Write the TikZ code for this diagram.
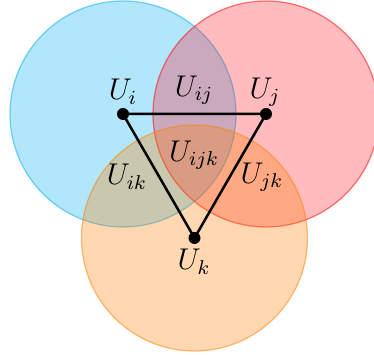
\documentclass[tikz,border=0pt]{standalone}
\definecolor{setred}{RGB}{255,30,42}
\begin{document}
\begin{tikzpicture}[x=0.4pt,y=-0.4pt,
  setcirc/.style={line width=0.5pt, draw opacity=0.5, fill opacity=0.3},
  pt/.style={circle, fill=black, inner sep=0pt, minimum size=4.8pt},
  lab/.style={font=\large}]
\useasboundingbox (0,0) rectangle (374,358);
\fill[white] (0,0) rectangle (374,358);
\coordinate (ci) at (123,114);
\coordinate (cj) at (266,114);
\coordinate (ck) at (194.5,238);
\draw[setcirc, draw=cyan, fill=cyan] (ci) circle (113);
\draw[setcirc, draw=red, fill=setred] (cj) circle (113);
\draw[setcirc, draw=orange, fill=orange] (ck) circle (113);
\node[pt] (i) at (ci) {};
\node[pt] (j) at (cj) {};
\node[pt] (k) at (ck) {};
\draw[line width=1pt] (i.center) -- (j.center) -- (k.center) -- cycle;
\node[lab] (li) at (123,92) {$U_i$};
\node[lab] (lj) at (265,92) {$U_j$};
\node[lab] (lk) at (194,262) {$U_k$};
\node[lab] (lij) at (194,90) {$U_{ij}$};
\node[lab] (lijk) at (194,155) {$U_{ijk}$};
\node[lab] (lik) at (127,177) {$U_{ik}$};
\node[lab] (ljk) at (262,177) {$U_{jk}$};
\end{tikzpicture}
\end{document}
